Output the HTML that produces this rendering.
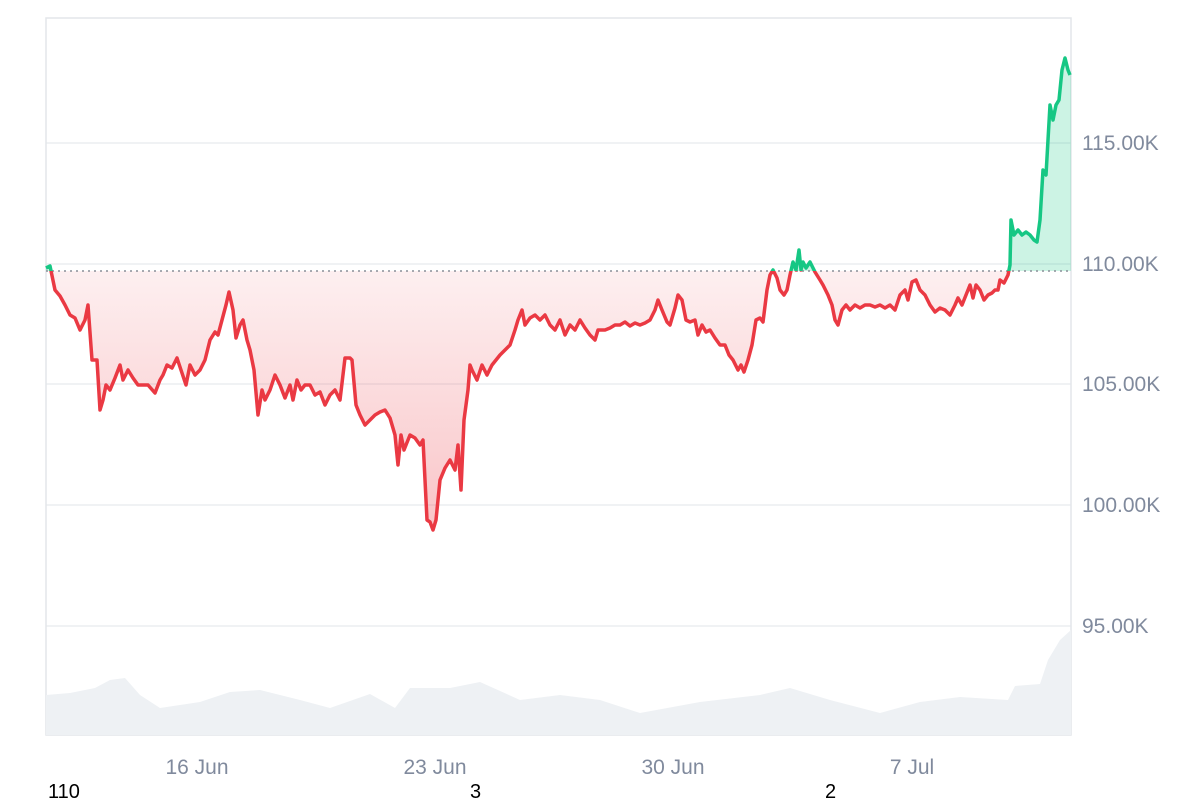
<!DOCTYPE html>
<html><head><meta charset="utf-8"><style>
html,body{margin:0;padding:0;background:#fff;}
svg{display:block;font-family:"Liberation Sans",sans-serif;}
</style></head><body>
<svg width="1200" height="800" viewBox="0 0 1200 800">
<defs>
<linearGradient id="rg" x1="0" y1="271" x2="0" y2="535" gradientUnits="userSpaceOnUse">
<stop offset="0" stop-color="#ea3943" stop-opacity="0.08"/>
<stop offset="1" stop-color="#ea3943" stop-opacity="0.3"/>
</linearGradient>
<clipPath id="below"><rect x="0" y="271" width="1200" height="600"/></clipPath>
<clipPath id="above"><rect x="0" y="0" width="1200" height="271"/></clipPath>
<path id="ar" d="M46,271 L46,268 L50,266 L55,290 L60,296 L65,305 L70,315 L75,318 L80,330 L85,320 L88,305 L92,360 L97,360 L100,410 L103,400 L106,385 L110,390 L115,378 L120,365 L123,380 L128,370 L133,378 L138,385 L143,385 L148,385 L155,393 L160,380 L163,375 L167,365 L172,368 L177,358 L181,370 L186,385 L190,365 L195,375 L200,370 L205,360 L210,340 L215,332 L218,335 L222,320 L226,305 L229,292 L233,310 L236,338 L240,325 L243,320 L247,340 L250,350 L254,370 L258,415 L262,390 L265,400 L270,390 L275,375 L280,385 L285,398 L290,385 L293,400 L297,380 L301,390 L305,385 L310,385 L315,395 L320,392 L325,405 L330,395 L335,390 L340,400 L345,358 L350,358 L352,360 L356,405 L360,415 L365,425 L370,420 L375,415 L380,412 L385,410 L390,418 L395,435 L398,465 L401,435 L404,450 L410,435 L415,438 L420,445 L423,440 L427,520 L430,522 L433,530 L436,520 L440,480 L445,468 L450,460 L455,470 L458,445 L461,490 L464,420 L468,390 L470,365 L472,370 L477,380 L482,365 L487,375 L492,365 L500,355 L505,350 L510,345 L515,330 L518,320 L522,310 L525,325 L530,318 L535,315 L540,320 L545,315 L550,325 L555,330 L560,320 L565,335 L570,325 L575,330 L580,320 L585,328 L590,335 L595,340 L598,330 L605,330 L610,328 L615,325 L620,325 L625,322 L630,326 L635,323 L640,325 L645,323 L650,320 L655,310 L658,300 L662,310 L667,322 L670,325 L675,308 L678,295 L682,300 L686,320 L690,322 L695,320 L698,335 L702,325 L706,332 L710,330 L715,338 L720,345 L725,345 L729,355 L733,360 L738,370 L741,365 L744,372 L748,360 L752,345 L756,320 L760,318 L763,322 L767,290 L770,275 L773,270 L777,278 L780,290 L784,295 L787,290 L790,275 L793,262 L796,270 L799,250 L801,270 L803,262 L806,268 L810,262 L815,272 L820,280 L823,285 L828,295 L832,305 L835,320 L838,325 L842,310 L846,305 L850,310 L855,305 L860,308 L865,305 L870,305 L875,307 L880,305 L885,308 L890,305 L895,310 L900,295 L905,290 L908,300 L912,282 L916,280 L920,290 L925,295 L930,305 L935,312 L940,308 L945,310 L950,315 L955,305 L958,298 L962,305 L966,295 L970,285 L973,298 L976,285 L980,290 L984,300 L988,295 L992,293 L995,290 L998,290 L1000,280 L1004,283 L1008,275 L1010,265 L1011,220 L1014,235 L1018,230 L1022,235 L1026,232 L1030,235 L1034,240 L1037,242 L1040,220 L1043,170 L1046,175 L1048,140 L1050,105 L1053,120 L1056,105 L1059,100 L1062,70 L1065,58 L1068,70 L1070,75 L1071,75 L1071,271 Z"/>
<path id="ln" fill="none" stroke-width="3.5" stroke-linejoin="round" d="M46,268 L50,266 L55,290 L60,296 L65,305 L70,315 L75,318 L80,330 L85,320 L88,305 L92,360 L97,360 L100,410 L103,400 L106,385 L110,390 L115,378 L120,365 L123,380 L128,370 L133,378 L138,385 L143,385 L148,385 L155,393 L160,380 L163,375 L167,365 L172,368 L177,358 L181,370 L186,385 L190,365 L195,375 L200,370 L205,360 L210,340 L215,332 L218,335 L222,320 L226,305 L229,292 L233,310 L236,338 L240,325 L243,320 L247,340 L250,350 L254,370 L258,415 L262,390 L265,400 L270,390 L275,375 L280,385 L285,398 L290,385 L293,400 L297,380 L301,390 L305,385 L310,385 L315,395 L320,392 L325,405 L330,395 L335,390 L340,400 L345,358 L350,358 L352,360 L356,405 L360,415 L365,425 L370,420 L375,415 L380,412 L385,410 L390,418 L395,435 L398,465 L401,435 L404,450 L410,435 L415,438 L420,445 L423,440 L427,520 L430,522 L433,530 L436,520 L440,480 L445,468 L450,460 L455,470 L458,445 L461,490 L464,420 L468,390 L470,365 L472,370 L477,380 L482,365 L487,375 L492,365 L500,355 L505,350 L510,345 L515,330 L518,320 L522,310 L525,325 L530,318 L535,315 L540,320 L545,315 L550,325 L555,330 L560,320 L565,335 L570,325 L575,330 L580,320 L585,328 L590,335 L595,340 L598,330 L605,330 L610,328 L615,325 L620,325 L625,322 L630,326 L635,323 L640,325 L645,323 L650,320 L655,310 L658,300 L662,310 L667,322 L670,325 L675,308 L678,295 L682,300 L686,320 L690,322 L695,320 L698,335 L702,325 L706,332 L710,330 L715,338 L720,345 L725,345 L729,355 L733,360 L738,370 L741,365 L744,372 L748,360 L752,345 L756,320 L760,318 L763,322 L767,290 L770,275 L773,270 L777,278 L780,290 L784,295 L787,290 L790,275 L793,262 L796,270 L799,250 L801,270 L803,262 L806,268 L810,262 L815,272 L820,280 L823,285 L828,295 L832,305 L835,320 L838,325 L842,310 L846,305 L850,310 L855,305 L860,308 L865,305 L870,305 L875,307 L880,305 L885,308 L890,305 L895,310 L900,295 L905,290 L908,300 L912,282 L916,280 L920,290 L925,295 L930,305 L935,312 L940,308 L945,310 L950,315 L955,305 L958,298 L962,305 L966,295 L970,285 L973,298 L976,285 L980,290 L984,300 L988,295 L992,293 L995,290 L998,290 L1000,280 L1004,283 L1008,275 L1010,265 L1011,220 L1014,235 L1018,230 L1022,235 L1026,232 L1030,235 L1034,240 L1037,242 L1040,220 L1043,170 L1046,175 L1048,140 L1050,105 L1053,120 L1056,105 L1059,100 L1062,70 L1065,58 L1068,70 L1070,75"/>
</defs>
<g stroke="#eceef1" stroke-width="1.5">
<line x1="46" y1="143" x2="1071" y2="143"/>
<line x1="46" y1="264" x2="1071" y2="264"/>
<line x1="46" y1="384" x2="1071" y2="384"/>
<line x1="46" y1="505" x2="1071" y2="505"/>
<line x1="46" y1="626" x2="1071" y2="626"/>
</g>
<rect x="46" y="18" width="1025" height="717" fill="none" stroke="#e3e6ea" stroke-width="1.5"/>
<path fill="#eef1f4" d="M46,735 L46,695 L70,693 L95,688 L110,680 L125,678 L140,695 L160,708 L200,702 L230,692 L260,690 L300,700 L330,708 L370,694 L395,708 L410,688 L450,688 L480,682 L520,700 L560,695 L600,700 L640,713 L700,702 L760,695 L790,688 L830,700 L880,713 L920,702 L960,697 L1008,700 L1015,686 L1040,684 L1048,660 L1060,640 L1071,630 L1071,735 Z"/>
<use href="#ar" fill="url(#rg)" clip-path="url(#below)"/>
<use href="#ar" fill="#16c784" fill-opacity="0.22" clip-path="url(#above)"/>
<line x1="46" y1="271" x2="1071" y2="271" stroke="#8a8f98" stroke-width="1.5" stroke-dasharray="2,4"/>
<use href="#ln" stroke="#ea3943" clip-path="url(#below)"/>
<use href="#ln" stroke="#16c784" clip-path="url(#above)"/>
<g fill="#808a9d" font-size="21">
<text x="1082" y="150">115.00K</text>
<text x="1082" y="271">110.00K</text>
<text x="1082" y="391">105.00K</text>
<text x="1082" y="512">100.00K</text>
<text x="1082" y="633">95.00K</text>
<text x="197" y="774" text-anchor="middle">16 Jun</text>
<text x="435" y="774" text-anchor="middle">23 Jun</text>
<text x="673" y="774" text-anchor="middle">30 Jun</text>
<text x="912" y="774" text-anchor="middle">7 Jul</text>
</g>
<g fill="#000" font-size="20">
<text x="48" y="798">110</text>
<text x="470" y="798">3</text>
<text x="825" y="798">2</text>
</g>
</svg>
</body></html>
